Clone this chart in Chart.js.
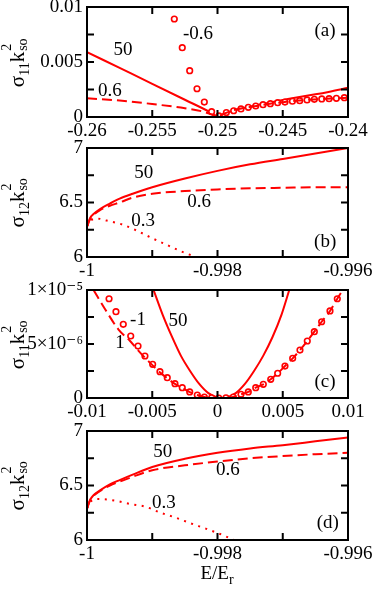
<!DOCTYPE html>
<html>
<head>
<meta charset="utf-8">
<script src="https://cdn.jsdelivr.net/npm/chart.js@4.4.0/dist/chart.umd.min.js"></script>
<style>
  body { margin: 0; background: #fff; }
  #wrap { position: relative; width: 374px; height: 589px; overflow: hidden; }
  canvas { position: absolute; left: 0; top: 0; }
  .yt { position: absolute; left: 17px; width: 0; height: 0; }
  .yt .in, #xt .in {
    position: absolute; left: 0; top: 0; white-space: nowrap;
    font-family: 'Liberation Serif', 'DejaVu Serif', serif; line-height: 1; color: #000;
  }
  .yt .in { font-size: 21px; transform: translate(-50%, -50%) rotate(-90deg); }
  #xt { position: absolute; left: 217px; top: 572px; width: 0; height: 0; }
  #xt .in { font-size: 19px; transform: translate(-50%, -50%); }
  sub { font-size: 14px; line-height: 0; vertical-align: -5px; }
  .st { display: inline-block; position: relative; width: 15px; height: 18px; }
  .st .s2 { position: absolute; left: 1px; top: -6px; font-size: 14px; }
  .st .so { position: absolute; left: 1px; top: 10px; font-size: 14px; }
</style>
</head>
<body>
<div id="wrap">
  <canvas id="pa" width="374" height="589"></canvas>
  <canvas id="pb" width="374" height="589"></canvas>
  <canvas id="pc" width="374" height="589"></canvas>
  <canvas id="pd" width="374" height="589"></canvas>
  <div class="yt" style="top:62px"><span class="in">σ<sub>11</sub>k<span class="st"><span class="s2">2</span><span class="so">so</span></span></span></div>
  <div class="yt" style="top:202px"><span class="in">σ<sub>12</sub>k<span class="st"><span class="s2">2</span><span class="so">so</span></span></span></div>
  <div class="yt" style="top:344px"><span class="in">σ<sub>11</sub>k<span class="st"><span class="s2">2</span><span class="so">so</span></span></span></div>
  <div class="yt" style="top:485px"><span class="in">σ<sub>12</sub>k<span class="st"><span class="s2">2</span><span class="so">so</span></span></span></div>
  <div id="xt"><span class="in">E/E<sub>r</sub></span></div>
</div>
<script>
// ---- panel (a): sigma11, E near -0.25
const aXTicks = [-0.26, -0.255, -0.25, -0.245, -0.24];
const aXLabels = ['-0.26', '-0.255', '-0.25', '-0.245', '-0.24'];
const aYTicks = [0, 0.0025, 0.005, 0.0075, 0.01];
const aYLabels = ['0', '', '0.005', '', '0.01'];

const aX50 = [-0.26, -0.2575, -0.255, -0.2525, -0.2505, -0.25, -0.2495, -0.2485, -0.2475, -0.2465, -0.2455, -0.2445, -0.2435, -0.2425, -0.2415, -0.24];
const aY50 = [0.0059, 0.00446, 0.00302, 0.00157, 0.0004, 0.00005, 0.0003, 0.00066, 0.00094, 0.0012, 0.00143, 0.00165, 0.00186, 0.00206, 0.00228, 0.00265];
const aX06 = [-0.26, -0.2575, -0.255, -0.2525, -0.2512, -0.2505, -0.25, -0.2495, -0.249, -0.2485, -0.248, -0.247, -0.246, -0.245, -0.244, -0.243, -0.242, -0.241, -0.24];
const aY06 = [0.0017, 0.0015, 0.00118, 0.0008, 0.00052, 0.00025, 0.00003, 0.0003, 0.00053, 0.0007, 0.00082, 0.001, 0.0012, 0.00135, 0.00147, 0.00157, 0.00164, 0.0017, 0.00176];
const aXm06 = [-0.25331, -0.2527, -0.25213, -0.25157, -0.25101, -0.25045, -0.24989, -0.24932, -0.24876, -0.2482, -0.24764, -0.24707, -0.24651, -0.24595, -0.24539, -0.24483, -0.24426, -0.2437, -0.24314, -0.24258, -0.24201, -0.24145, -0.24089, -0.24028];
const aYm06 = [0.00891, 0.0063, 0.00421, 0.00257, 0.00136, 0.00048, 0.0001, 0.0004, 0.00057, 0.00073, 0.00088, 0.001, 0.00112, 0.00121, 0.0013, 0.00136, 0.00143, 0.00148, 0.00155, 0.00161, 0.00164, 0.00167, 0.0017, 0.00176];

// ---- panels (b) and (d): sigma12, E near -1
const bXTicks = [-1, -0.999, -0.998, -0.997, -0.996];
const bXLabels = ['-1', '', '-0.998', '', '-0.996'];
const bYTicks = [6, 6.25, 6.5, 6.75, 7];
const bYLabels = ['6', '', '6.5', '', '7'];

const bX = [-1, -0.99995, -0.9999, -0.9998, -0.99965, -0.9995, -0.9993, -0.999, -0.9985, -0.998, -0.9975, -0.997, -0.9965, -0.996];
const bY50 = [6.28, 6.36, 6.394, 6.44, 6.49, 6.535, 6.58, 6.64, 6.72, 6.79, 6.85, 6.9, 6.95, 7.0];
const bY06 = [6.28, 6.35, 6.385, 6.43, 6.47, 6.5, 6.545, 6.58, 6.605, 6.62, 6.63, 6.635, 6.64, 6.64];
const bX03 = [-1, -0.99993, -0.99983, -0.9997, -0.99957, -0.99946, -0.99924, -0.99901, -0.99878, -0.99855, -0.99833];
const bY03 = [6.28, 6.34, 6.352, 6.334, 6.316, 6.298, 6.243, 6.175, 6.112, 6.05, 6.0];

const dY50 = [6.29, 6.37, 6.41, 6.455, 6.51, 6.55, 6.6, 6.67, 6.745, 6.8, 6.84, 6.87, 6.905, 6.94];
const dY06 = [6.29, 6.37, 6.405, 6.45, 6.5, 6.535, 6.58, 6.64, 6.685, 6.72, 6.75, 6.77, 6.787, 6.8];
const dX03 = [-1, -0.99993, -0.99983, -0.99957, -0.99934, -0.99911, -0.99887, -0.99864, -0.99841, -0.99818, -0.99796, -0.99775];
const dY03 = [6.29, 6.36, 6.376, 6.361, 6.33, 6.306, 6.25, 6.205, 6.153, 6.104, 6.055, 6.0];

// ---- panel (c): sigma11 near E = 0, y in units of 1e-6
const cXTicks = [-0.01, -0.005, 0, 0.005, 0.01];
const cXLabels = ['-0.01', '-0.005', '0', '0.005', '0.01'];
const cYTicks = [0, 2.5, 5, 7.5, 10];
const cYLabels = ['0', '', '5×10⁻⁶', '', '1×10⁻⁵'];

const cX50 = [-0.0049, -0.0042, -0.0035, -0.0028, -0.0021, -0.0014, -0.0007, 0, 0.0003, 0.0007, 0.0014, 0.0021, 0.0028, 0.0035, 0.0042, 0.0049, 0.0055];
const cY50 = [10, 7.7, 5.7, 3.9, 2.5, 1.3, 0.45, 0.05, 0, 0.05, 0.45, 1.3, 2.5, 3.9, 5.6, 7.7, 10];
const cX1 = [-0.0095, -0.0086, -0.0076, -0.0067, -0.0061, -0.00556, -0.00495, -0.0044, -0.00385, -0.00326, -0.0027, -0.00213, -0.00155, -0.001, -0.0005, 0, 0.0005, 0.0012, 0.0018, 0.00236, 0.00293, 0.00351, 0.00408, 0.00461, 0.00517, 0.00576, 0.00632, 0.00688, 0.00742, 0.00798, 0.00862, 0.00918, 0.0096];
const cY1 = [10, 8.2, 6.36, 5.28, 4.44, 3.73, 3.0, 2.35, 1.83, 1.3, 0.93, 0.55, 0.28, 0.1, 0.02, 0, 0.02, 0.1, 0.34, 0.56, 0.96, 1.27, 1.73, 2.29, 2.96, 3.67, 4.44, 5.28, 6.14, 7.06, 8.06, 9.19, 10];
const cXm1 = [-0.00831, -0.00778, -0.00722, -0.00665, -0.00609, -0.00556, -0.00497, -0.00441, -0.00385, -0.00326, -0.0027, -0.00213, -0.00155, -0.00101, -0.00045, 0.0001, 0.00065, 0.00121, 0.0018, 0.00236, 0.00293, 0.00351, 0.00408, 0.00461, 0.00517, 0.00576, 0.00632, 0.00688, 0.00742, 0.00798, 0.00862, 0.00918];
const cYm1 = [9.19, 7.99, 6.82, 5.74, 4.81, 3.89, 3.12, 2.44, 1.88, 1.33, 0.96, 0.56, 0.28, 0.09, 0.02, 0, 0.02, 0.09, 0.34, 0.56, 0.96, 1.27, 1.73, 2.29, 2.96, 3.67, 4.44, 5.28, 6.14, 7.06, 8.06, 9.19];

const RED = '#ff0000';
const FONT = "'Liberation Serif', 'DejaVu Serif', serif";
Chart.defaults.font.family = FONT;
Chart.defaults.font.size = 19;
Chart.defaults.color = '#000';

const xy = (xs, ys) => xs.map((x, i) => ({ x: x, y: ys[i] }));

const solid = (xs, ys) => ({
  data: xy(xs, ys), showLine: true, borderColor: RED, borderWidth: 2, pointRadius: 0,
  cubicInterpolationMode: 'monotone', order: 2
});
const dashed = (xs, ys) => Object.assign(solid(xs, ys), { borderDash: [10, 5], order: 0 });
const dotted = (xs, ys) => Object.assign(solid(xs, ys), { borderDash: [2, 5.5], order: 1 });
const circles = (xs, ys) => ({
  data: xy(xs, ys), showLine: false, pointRadius: 2.8, pointBorderWidth: 1.6,
  pointBorderColor: RED, pointBackgroundColor: '#fff', order: 1
});

// box with inward ticks on all sides, plus the curve labels
const TICK = 7;
const frame = {
  id: 'frame',
  afterDraw(chart, args, opts) {
    const { ctx, chartArea: a } = chart;
    const x = chart.scales.x, y = chart.scales.y;
    ctx.save();
    ctx.fillStyle = '#000';
    x.ticks.forEach(t => {
      const p = x.getPixelForValue(t.value);
      ctx.fillRect(p - 1, a.bottom - TICK, 2, TICK);
      ctx.fillRect(p - 1, a.top, 2, TICK);
    });
    y.ticks.forEach(t => {
      const p = y.getPixelForValue(t.value);
      ctx.fillRect(a.left, p - 1, TICK, 2);
      ctx.fillRect(a.right - TICK, p - 1, TICK, 2);
    });
    ctx.strokeStyle = '#000';
    ctx.lineWidth = 2;
    ctx.strokeRect(a.left, a.top, a.width, a.height);
    ctx.font = '19px ' + FONT;
    ctx.textAlign = 'center';
    ctx.textBaseline = 'middle';
    opts.notes.forEach(n => ctx.fillText(n[0], x.getPixelForValue(n[1]), y.getPixelForValue(n[2])));
    ctx.restore();
  }
};

function panel(id, top, bottom, xt, xl, yt, yl, datasets, notes) {
  new Chart(document.getElementById(id), {
    type: 'scatter',
    data: { datasets: datasets },
    options: {
      responsive: false,
      animation: false,
      layout: { padding: { left: 0, right: 26, top: top, bottom: 589 - bottom - 30 } },
      plugins: { legend: { display: false }, tooltip: { enabled: false }, frame: { notes: notes } },
      scales: {
        x: {
          type: 'linear', min: xt[0], max: xt[xt.length - 1],
          grid: { display: false, drawTicks: false }, border: { display: false },
          afterBuildTicks: s => { s.ticks = xt.map(v => ({ value: v })); },
          afterFit: s => { s.height = 30; s.paddingLeft = 0; s.paddingRight = 0; },
          ticks: { padding: 3, maxRotation: 0, autoSkip: false, callback: (v, i) => xl[i] }
        },
        y: {
          type: 'linear', min: yt[0], max: yt[yt.length - 1],
          grid: { display: false, drawTicks: false }, border: { display: false },
          afterBuildTicks: s => { s.ticks = yt.map(v => ({ value: v })); },
          afterFit: s => { s.width = 87; s.paddingTop = 0; s.paddingBottom = 0; },
          ticks: { padding: 4, autoSkip: false, callback: (v, i) => yl[i] }
        }
      }
    },
    plugins: [frame]
  });
}

panel('pa', 7, 117, aXTicks, aXLabels, aYTicks, aYLabels, [
  solid(aX50, aY50), dashed(aX06, aY06), circles(aXm06, aYm06)
], [['(a)', -0.24176, 0.00782], ['-0.6', -0.2515, 0.00755], ['50', -0.25724, 0.00609], ['0.6', -0.25824, 0.00236]]);

panel('pb', 148, 257, bXTicks, bXLabels, bYTicks, bYLabels, [
  solid(bX, bY50), dashed(bX, bY06), dotted(bX03, bY03)
], [['50', -0.99913, 6.77], ['0.6', -0.99828, 6.505], ['0.3', -0.99914, 6.33], ['(b)', -0.99635, 6.14]]);

panel('pc', 290, 398, cXTicks, cXLabels, cYTicks, cYLabels, [
  solid(cX50, cY50), dashed(cX1, cY1), circles(cXm1, cYm1)
], [['-1', -0.00609, 7.22], ['1', -0.00747, 5.09], ['50', -0.00303, 7.13], ['(c)', 0.00824, 1.48]]);

panel('pd', 431, 540, bXTicks, bXLabels, bYTicks, bYLabels, [
  solid(bX, dY50), dashed(bX, dY06), dotted(dX03, dY03)
], [['50', -0.99884, 6.807], ['0.6', -0.99784, 6.642], ['0.3', -0.99882, 6.34], ['(d)', -0.99631, 6.156]]);
</script>
</body>
</html>
